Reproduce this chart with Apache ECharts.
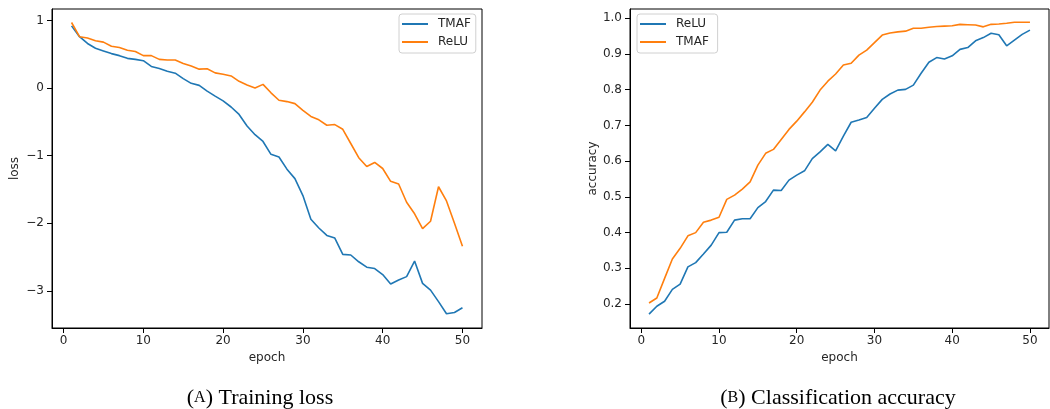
<!DOCTYPE html>
<html>
<head>
<meta charset="utf-8">
<script src="https://cdn.jsdelivr.net/npm/echarts@6/dist/echarts.min.js"></script>
<style>
html,body{margin:0;padding:0;background:#fff;}
#c{width:1050px;height:409px;}
</style>
</head>
<body>
<div id="c"></div>
<script>
const epochs = Array.from({length:50},(_,i)=>i+1);
const lossTMAF = [0.92,0.76,0.66,0.59,0.55,0.51,0.48,0.44,0.425,0.405,
  0.32,0.29,0.25,0.22,0.14,0.07,0.04,-0.045,-0.12,-0.19,
  -0.28,-0.39,-0.56,-0.69,-0.79,-0.98,-1.02,-1.20,-1.34,-1.59,
  -1.94,-2.07,-2.18,-2.22,-2.46,-2.47,-2.57,-2.65,-2.67,-2.76,
  -2.90,-2.84,-2.79,-2.56,-2.89,-2.99,-3.16,-3.34,-3.32,-3.25];
const lossReLU = [0.97,0.76,0.74,0.70,0.68,0.62,0.60,0.56,0.54,0.48,
  0.48,0.425,0.415,0.415,0.365,0.325,0.28,0.285,0.225,0.205,
  0.18,0.10,0.045,0.0,0.055,-0.07,-0.18,-0.20,-0.23,-0.33,
  -0.42,-0.47,-0.55,-0.54,-0.61,-0.82,-1.03,-1.16,-1.10,-1.19,
  -1.38,-1.42,-1.69,-1.86,-2.08,-1.97,-1.46,-1.67,-2.00,-2.34];
const accReLU = [0.172,0.194,0.208,0.241,0.256,0.304,0.316,0.340,0.365,0.400,
  0.401,0.435,0.439,0.439,0.470,0.487,0.519,0.518,0.547,0.561,
  0.573,0.607,0.626,0.647,0.629,0.670,0.709,0.715,0.722,0.748,
  0.773,0.788,0.799,0.801,0.813,0.846,0.877,0.890,0.886,0.895,
  0.913,0.918,0.937,0.946,0.958,0.954,0.923,0.939,0.955,0.967];
const accTMAF = [0.203,0.217,0.272,0.326,0.356,0.391,0.400,0.429,0.435,0.443,
  0.493,0.505,0.522,0.542,0.589,0.622,0.633,0.661,0.689,0.712,
  0.738,0.765,0.799,0.824,0.844,0.869,0.874,0.897,0.911,0.932,
  0.953,0.959,0.962,0.964,0.972,0.972,0.975,0.977,0.978,0.979,
  0.983,0.982,0.981,0.976,0.983,0.984,0.986,0.989,0.989,0.989];
const xTicks = [0,10,20,30,40,50];
const lossTicks = [-3,-2,-1,0,1];
const accTicks = [0.2,0.3,0.4,0.5,0.6,0.7,0.8,0.9,1.0];

const BLUE='#1f77b4', ORANGE='#ff7f0e';
const FONT='DejaVu Sans';
const txt={fontFamily:FONT,fontSize:12,color:'#262626'};
const pair = arr => epochs.map((e,i)=>[e,arr[i]]);

function xAx(gi){
  return {type:'value',gridIndex:gi,min:-1.45,max:52.45,
    name:'epoch',nameLocation:'middle',nameGap:24,nameTextStyle:txt,
    axisLine:{show:true,onZero:false,lineStyle:{color:'#000',width:1}},
    axisTick:{show:true,length:5,customValues:xTicks,lineStyle:{color:'#000'}},
    axisLabel:Object.assign({customValues:xTicks,margin:7},txt),
    splitLine:{show:false}};
}
function yAx(gi,min,max,ticks,name,fmt){
  return {type:'value',gridIndex:gi,min:min,max:max,
    name:name,nameLocation:'middle',nameGap:31,nameTextStyle:txt,
    axisLine:{show:true,onZero:false,lineStyle:{color:'#000',width:1}},
    axisTick:{show:true,length:5,customValues:ticks,lineStyle:{color:'#000'}},
    axisLabel:Object.assign({customValues:ticks,margin:8,formatter:fmt},txt),
    splitLine:{show:false}};
}
function line(name,data,color,xi){
  return {type:'line',name:name,data:data,xAxisIndex:xi,yAxisIndex:xi,
    symbol:'none',lineStyle:{color:color,width:1.6},itemStyle:{color:color},
    animation:false};
}
function legend(left,items){
  return {orient:'vertical',left:left,top:14,data:items,
    icon:'rect',itemWidth:26,itemHeight:2,itemGap:4,
    padding:[3,5,4,3],borderColor:'#d0d0d0',borderWidth:1,borderRadius:3,
    backgroundColor:'#fff',
    textStyle:Object.assign({lineHeight:14,padding:[0,0,0,5]},txt),
    selectedMode:false};
}
const capRich = {
  p:{fontFamily:'Liberation Serif',fontSize:22,fill:'#000'},
  s:{fontFamily:'Liberation Serif',fontSize:16,fill:'#000'}
};
const chart = echarts.init(document.getElementById('c'),null,{renderer:'canvas'});
chart.setOption({
  animation:false,
  backgroundColor:'#fff',
  grid:[
    {left:52,top:9,width:430,height:319,show:true,borderColor:'#000',borderWidth:1,backgroundColor:'transparent'},
    {left:630,top:9,width:419,height:319,show:true,borderColor:'#000',borderWidth:1,backgroundColor:'transparent'}
  ],
  xAxis:[xAx(0),xAx(1)],
  yAxis:[
    yAx(0,-3.55,1.17,lossTicks,'loss',v=>String(v).replace('-','\u2212')),
    yAx(1,0.133,1.026,accTicks,'accuracy',v=>v.toFixed(1))
  ],
  legend:[
    legend(399,[{name:'TMAF',itemStyle:{color:BLUE}},{name:'ReLU',itemStyle:{color:ORANGE}}]),
    legend(637,[{name:'ReLU ',itemStyle:{color:BLUE}},{name:'TMAF ',itemStyle:{color:ORANGE}}])
  ],
  series:[
    line('TMAF',pair(lossTMAF),BLUE,0),
    line('ReLU',pair(lossReLU),ORANGE,0),
    line('ReLU ',pair(accReLU),BLUE,1),
    line('TMAF ',pair(accTMAF),ORANGE,1)
  ],
  graphic:[
    {type:'text',x:260,y:398,style:{
      text:'{p|(}{s|A}{p|) Training loss}',textAlign:'center',textVerticalAlign:'middle',rich:capRich}},
    {type:'text',x:838,y:398,style:{
      text:'{p|(}{s|B}{p|) Classification accuracy}',textAlign:'center',textVerticalAlign:'middle',rich:capRich}}
  ]
});
</script>
</body>
</html>
